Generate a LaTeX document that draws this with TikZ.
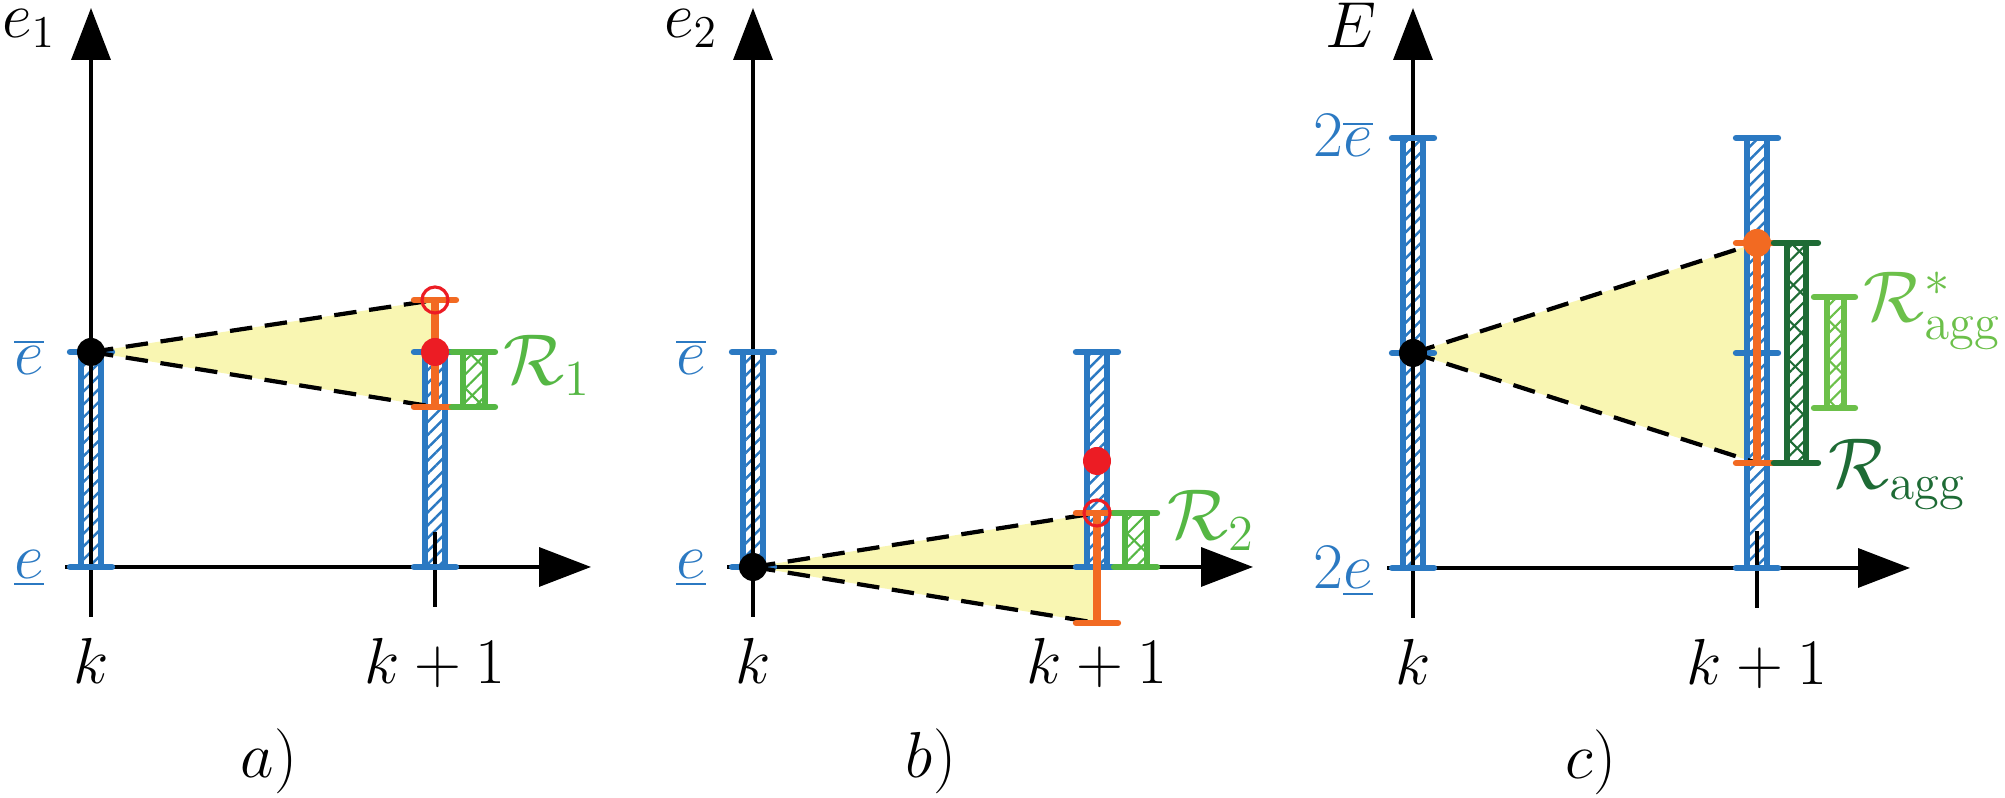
\RequirePackage{fix-cm}
\documentclass[tikz,border=0pt]{standalone}
\usetikzlibrary{arrows.meta, patterns.meta, positioning}

\definecolor{barblue}{RGB}{43,121,194}
\definecolor{iorange}{RGB}{242,106,34}
\definecolor{pred}{RGB}{236,28,36}
\definecolor{rgreen}{RGB}{85,183,68}
\definecolor{starreen}{RGB}{108,192,74}
\definecolor{aggreen}{RGB}{30,107,53}
\definecolor{coneyellow}{RGB}{249,246,178}

\begin{document}
\begin{tikzpicture}[
    every node/.style={font=\fontsize{18.5}{22}\selectfont},
    lbl/.style={inner sep=0pt, anchor=base},
    setlbl/.style={inner sep=0pt, anchor=base west, font=\fontsize{20.5}{24}\selectfont, text=#1},
    axis/.style={line width=1pt, -{Triangle[length=5.2mm, width=3.9mm]}},
    tick/.style={line width=1pt},
    cone/.style={fill=coneyellow},
    coneedge/.style={line width=1.2pt, dash pattern=on 6.4pt off 3.6pt},
    barhatch/.style={preaction={fill=white}, pattern={Lines[angle=45, distance=2.6pt, line width=0.7pt]}, pattern color=barblue},
    barline/.style={barblue, line width=1.5pt},
    barcap/.style={barblue, line width=1.8pt, line cap=round},
    oline/.style={iorange, line width=2pt},
    ocap/.style={iorange, line width=1.8pt, line cap=round},
    densehatch/.style={pattern={Lines[angle=45, distance=2.8pt, line width=0.6pt]}, pattern color=#1},
    sparsehatch/.style={pattern={Lines[angle=-45, distance=8pt, line width=0.6pt]}, pattern color=#1},
    rline/.style={#1, line width=1.5pt},
    rcap/.style={#1, line width=1.8pt, line cap=round},
    dot/.style={circle, fill=#1, inner sep=0pt, minimum size=2.8mm},
    opendot/.style={circle, draw=pred, line width=0.9pt, inner sep=0pt, minimum size=2.6mm}
]
\useasboundingbox (0,0) rectangle (20.05,7.98);

% ---------- a) ----------
\begin{scope}[shift={(0.91,2.31)}]
    \coordinate (a-top) at (0,5.59);
    \coordinate (a-bot) at (0,-0.50);
    \coordinate (a-left) at (-0.26,0);
    \coordinate (a-right) at (5.0,0);
    \coordinate (a-start) at (0,2.15);
    \coordinate (a-hi) at (3.44,2.67);
    \coordinate (a-lo) at (3.44,1.60);

    \fill[cone] (a-start) -- (a-hi) -- (a-lo) -- cycle;
    \fill[barhatch] (-0.1,0) rectangle (0.1,2.15);
    \fill[barhatch] (3.34,0) rectangle (3.54,2.15);

    \draw[axis] (a-bot) -- (a-top);
    \draw[axis] (a-left) -- (a-right);
    \draw[tick] (3.44,0.35) -- (3.44,-0.40);

    \draw[barline] (-0.1,0) -- (-0.1,2.15) (0.1,0) -- (0.1,2.15);
    \draw[barline] (3.34,0) -- (3.34,2.15) (3.54,0) -- (3.54,2.15);
    \draw[barcap] (-0.21,0) -- (0.21,0) (-0.21,2.15) -- (0.21,2.15);
    \draw[barcap] (3.23,0) -- (3.65,0) (3.23,2.15) -- (3.65,2.15);

    \draw[coneedge] (a-start) -- (a-hi);
    \draw[coneedge] (a-start) -- (a-lo);

    \draw[oline] (a-lo) -- (a-hi);
    \draw[ocap] (3.23,2.67) -- (3.65,2.67) (3.23,1.60) -- (3.65,1.60);

    \fill[densehatch=rgreen] (3.72,1.60) rectangle (3.94,2.15);
    \fill[sparsehatch=rgreen] (3.72,1.60) rectangle (3.94,2.15);
    \draw[rline=rgreen] (3.72,1.60) -- (3.72,2.15) (3.94,1.60) -- (3.94,2.15);
    \draw[rcap=rgreen] (3.61,1.60) -- (4.04,1.60) (3.61,2.15) -- (4.04,2.15);

    \node[dot=black] (a-p0) at (a-start) {};
    \node[dot=pred] (a-p1) at (3.44,2.15) {};
    \node[opendot] (a-q1) at (a-hi) {};

    \node[lbl] (a-e1) at (-0.62,5.29) {$e_1$};
    \node[lbl, text=barblue] (a-ehi) at (-0.62,1.92) {$\overline{e}$};
    \node[lbl, text=barblue] (a-elo) at (-0.62,-0.12) {$\underline{e}$};
    \node[setlbl=rgreen] (a-R) at (4.12,1.82) {$\mathcal{R}_1$};
    \node[lbl] (a-k) at (0,-1.17) {$k$};
    \node[lbl] (a-k1) at (3.44,-1.17) {$k+1$};
    \node[lbl] (a-cap) at (1.78,-2.11) {$a)$};
\end{scope}

% ---------- b) ----------
\begin{scope}[shift={(7.53,2.31)}]
    \coordinate (b-top) at (0,5.59);
    \coordinate (b-bot) at (0,-0.50);
    \coordinate (b-left) at (-0.26,0);
    \coordinate (b-right) at (5.0,0);
    \coordinate (b-start) at (0,0);
    \coordinate (b-hi) at (3.44,0.54);
    \coordinate (b-lo) at (3.44,-0.56);

    \fill[cone] (b-start) -- (b-hi) -- (b-lo) -- cycle;
    \fill[barhatch] (-0.1,0) rectangle (0.1,2.15);
    \fill[barhatch] (3.34,0) rectangle (3.54,2.15);

    \draw[axis] (b-bot) -- (b-top);
    \draw[axis] (b-left) -- (b-right);
    \draw[tick] (3.44,0.35) -- (3.44,-0.40);

    \draw[barline] (-0.1,0) -- (-0.1,2.15) (0.1,0) -- (0.1,2.15);
    \draw[barline] (3.34,0) -- (3.34,2.15) (3.54,0) -- (3.54,2.15);
    \draw[barcap] (-0.21,0) -- (0.21,0) (-0.21,2.15) -- (0.21,2.15);
    \draw[barcap] (3.23,0) -- (3.65,0) (3.23,2.15) -- (3.65,2.15);

    \draw[coneedge] (b-start) -- (b-hi);
    \draw[coneedge] (b-start) -- (b-lo);

    \draw[oline] (b-lo) -- (b-hi);
    \draw[ocap] (3.23,0.54) -- (3.65,0.54) (3.23,-0.56) -- (3.65,-0.56);

    \fill[densehatch=rgreen] (3.72,0) rectangle (3.94,0.54);
    \fill[sparsehatch=rgreen] (3.72,0) rectangle (3.94,0.54);
    \draw[rline=rgreen] (3.72,0) -- (3.72,0.54) (3.94,0) -- (3.94,0.54);
    \draw[rcap=rgreen] (3.61,0) -- (4.04,0) (3.61,0.54) -- (4.04,0.54);

    \node[dot=black] (b-p0) at (b-start) {};
    \node[dot=pred] (b-p1) at (3.44,1.06) {};
    \node[opendot] (b-q1) at (b-hi) {};

    \node[lbl] (b-e2) at (-0.62,5.29) {$e_2$};
    \node[lbl, text=barblue] (b-ehi) at (-0.62,1.92) {$\overline{e}$};
    \node[lbl, text=barblue] (b-elo) at (-0.62,-0.12) {$\underline{e}$};
    \node[setlbl=rgreen] (b-R) at (4.14,0.27) {$\mathcal{R}_2$};
    \node[lbl] (b-k) at (0,-1.17) {$k$};
    \node[lbl] (b-k1) at (3.44,-1.17) {$k+1$};
    \node[lbl] (b-cap) at (1.78,-2.11) {$b)$};
\end{scope}

% ---------- c) ----------
\begin{scope}[shift={(14.13,2.30)}]
    \coordinate (c-top) at (0,5.60);
    \coordinate (c-bot) at (0,-0.50);
    \coordinate (c-left) at (-0.26,0);
    \coordinate (c-right) at (4.97,0);
    \coordinate (c-start) at (0,2.15);
    \coordinate (c-hi) at (3.44,3.25);
    \coordinate (c-lo) at (3.44,1.05);

    \fill[cone] (c-start) -- (c-hi) -- (c-lo) -- cycle;
    \fill[barhatch] (-0.1,0) rectangle (0.1,4.30);
    \fill[barhatch] (3.34,0) rectangle (3.54,4.30);

    \draw[axis] (c-bot) -- (c-top);
    \draw[axis] (c-left) -- (c-right);
    \draw[tick] (3.44,0.37) -- (3.44,-0.40);

    \draw[barline] (-0.1,0) -- (-0.1,4.30) (0.1,0) -- (0.1,4.30);
    \draw[barline] (3.34,0) -- (3.34,4.30) (3.54,0) -- (3.54,4.30);
    \draw[barcap] (-0.21,0) -- (0.21,0) (-0.21,2.15) -- (0.21,2.15) (-0.21,4.30) -- (0.21,4.30);
    \draw[barcap] (3.23,0) -- (3.65,0) (3.23,2.15) -- (3.65,2.15) (3.23,4.30) -- (3.65,4.30);

    \draw[coneedge] (c-start) -- (c-hi);
    \draw[coneedge] (c-start) -- (c-lo);

    \draw[oline] (c-lo) -- (c-hi);
    \draw[ocap] (3.23,3.25) -- (3.65,3.25) (3.23,1.05) -- (3.65,1.05);

    % aggregated set
    \fill[densehatch=aggreen] (3.74,1.05) rectangle (3.93,3.25);
    \fill[sparsehatch=aggreen] (3.74,1.05) rectangle (3.93,3.25);
    \draw[rline=aggreen] (3.74,1.05) -- (3.74,3.25) (3.93,1.05) -- (3.93,3.25);
    \draw[rcap=aggreen] (3.61,1.05) -- (4.05,1.05) (3.61,3.25) -- (4.05,3.25);

    % optimal aggregated set
    \fill[densehatch=starreen] (4.14,1.60) rectangle (4.31,2.71);
    \fill[sparsehatch=starreen] (4.14,1.60) rectangle (4.31,2.71);
    \draw[rline=starreen] (4.14,1.60) -- (4.14,2.71) (4.31,1.60) -- (4.31,2.71);
    \draw[rcap=starreen] (4.01,1.60) -- (4.42,1.60) (4.01,2.71) -- (4.42,2.71);

    \node[dot=black] (c-p0) at (c-start) {};
    \node[dot=iorange] (c-p1) at (c-hi) {};

    \node[lbl] (c-E) at (-0.62,5.20) {$E$};
    \node[lbl, text=barblue] (c-ehi) at (-0.70,4.11) {$2\overline{e}$};
    \node[lbl, text=barblue] (c-elo) at (-0.70,-0.21) {$2\underline{e}$};
    \node[setlbl=starreen] (c-Rs) at (4.50,2.46) {$\mathcal{R}^*_{\mathrm{agg}}$};
    \node[setlbl=aggreen] (c-R) at (4.15,0.79) {$\mathcal{R}_{\mathrm{agg}}$};
    \node[lbl] (c-k) at (0,-1.17) {$k$};
    \node[lbl] (c-k1) at (3.44,-1.17) {$k+1$};
    \node[lbl] (c-cap) at (1.78,-2.11) {$c)$};
\end{scope}
\end{tikzpicture}
\end{document}
